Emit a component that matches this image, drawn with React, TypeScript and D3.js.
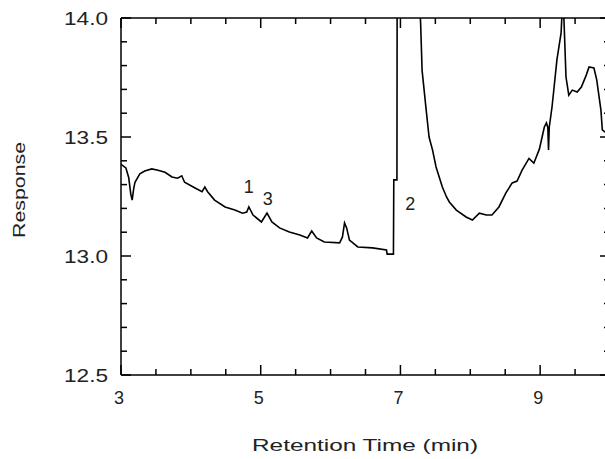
import React from "react";
import * as d3 from "d3";

const retentionTime = [
  3.0, 3.07, 3.11, 3.14, 3.16, 3.18, 3.2, 3.27, 3.34, 3.44, 3.53, 3.63, 3.73, 3.81, 3.87, 3.91,
  4.06, 4.16, 4.2, 4.24, 4.34, 4.49, 4.63, 4.74, 4.8, 4.83, 4.89, 5.01, 5.09, 5.16, 5.27, 5.41,
  5.56, 5.67, 5.73, 5.8, 5.91, 6.13, 6.17, 6.2, 6.23, 6.27, 6.39, 6.6, 6.8, 6.81, 6.9, 6.905,
  6.95, 6.955, 7.2, 7.29, 7.31, 7.37, 7.41, 7.46, 7.51, 7.6, 7.66, 7.7, 7.8, 7.94, 8.03, 8.13,
  8.23, 8.31, 8.41, 8.51, 8.6, 8.67, 8.74, 8.84, 8.91, 8.99, 9.06, 9.09, 9.11, 9.12, 9.13, 9.17,
  9.2, 9.24, 9.3, 9.31, 9.34, 9.37, 9.41, 9.46, 9.53, 9.59, 9.66, 9.7, 9.77, 9.81, 9.87, 9.89, 9.93,
];
const response = [
  13.385, 13.37, 13.33, 13.26, 13.235, 13.28, 13.31, 13.345, 13.357, 13.366, 13.36, 13.352, 13.332, 13.327, 13.337, 13.31,
  13.286, 13.27, 13.29, 13.27, 13.235, 13.206, 13.193, 13.18, 13.185, 13.206, 13.172, 13.143, 13.18, 13.143, 13.118, 13.101,
  13.088, 13.076, 13.105, 13.076, 13.059, 13.055, 13.08, 13.139, 13.118, 13.067, 13.038, 13.034, 13.025, 13.008, 13.008, 13.32,
  13.32, 14.6, 14.6, 13.97, 13.78, 13.61, 13.5, 13.445, 13.374, 13.29, 13.248, 13.227, 13.193, 13.164, 13.151, 13.18,
  13.172, 13.172, 13.206, 13.265, 13.307, 13.315, 13.36, 13.41, 13.39, 13.45, 13.542, 13.559, 13.54, 13.445, 13.54, 13.626,
  13.71, 13.824, 13.937, 14.0, 14.0, 13.752, 13.676, 13.697, 13.689, 13.71, 13.76, 13.794, 13.79, 13.74, 13.613, 13.53, 13.52,
];

const xTickLabels = [3, 5, 7, 9];
const yTickLabels = ["12.5", "13.0", "13.5", "14.0"];
const peakNames = ["1", "3", "2"];
const peakTime = [4.83, 5.1, 7.14];
const peakResponse = [13.292, 13.24, 13.222];

const W = 605;
const H = 459;
const FONT = "'Liberation Sans', Arial, sans-serif";

export default function App() {
  const x = d3.scaleLinear().domain([3, 10]).range([121, 610]);
  const y = d3.scaleLinear().domain([12.5, 14]).range([375, 18]);
  const pts = retentionTime.map((t, i) => [t, response[i]] as [number, number]);
  const line = d3
    .line<[number, number]>()
    .x((d) => x(d[0]))
    .y((d) => y(d[1]));

  const xMinor = d3.range(3, 10.001, 0.5);
  const yMinor = d3.range(12.5, 14.001, 0.1);
  const isXMajor = (v: number) => xTickLabels.some((m) => Math.abs(m - v) < 1e-6);
  const isYMajor = (v: number) => yTickLabels.some((m) => Math.abs(+m - v) < 1e-6);
  const x0 = x(3), x1 = x(10), y0 = y(12.5), y1 = y(14);

  return (
    <svg width={W} height={H} style={{ position: "absolute", left: 0, top: 0, background: "#fff" }}>
      <defs>
        <clipPath id="plot">
          <rect x={x0} y={y1} width={x1 - x0} height={y0 - y1} />
        </clipPath>
      </defs>
      <rect x={0} y={0} width={W} height={H} fill="#fff" />
      <g stroke="#000" strokeWidth={1.5} fill="none">
        <line x1={x0} x2={x1} y1={y0} y2={y0} />
        <line x1={x0} x2={x1} y1={y1} y2={y1} />
        <line x1={x0} x2={x0} y1={y0} y2={y1} />
        <line x1={x1} x2={x1} y1={y0} y2={y1} />
        {xMinor.map((v, i) => {
          const L = isXMajor(v) ? 10 : 6;
          return (
            <g key={"xt" + i}>
              <line x1={x(v)} x2={x(v)} y1={y0} y2={y0 - L} />
              <line x1={x(v)} x2={x(v)} y1={y1} y2={y1 + L} />
            </g>
          );
        })}
        {yMinor.map((v, i) => {
          const L = isYMajor(v) ? 10 : 6;
          return (
            <g key={"yt" + i}>
              <line x1={x0} x2={x0 + L} y1={y(v)} y2={y(v)} />
              <line x1={x1} x2={x1 - L} y1={y(v)} y2={y(v)} />
            </g>
          );
        })}
      </g>
      <path d={line(pts) || ""} fill="none" stroke="#000" strokeWidth={1.6} clipPath="url(#plot)" strokeLinejoin="miter" />
      <g fontFamily={FONT} fontSize={18} fill="#222">
        {yTickLabels.map((t) => (
          <text key={t} x={64} y={y(+t) + 6.5} textLength={44} lengthAdjust="spacingAndGlyphs">
            {t}
          </text>
        ))}
        {xTickLabels.map((t) => (
          <text key={t} x={x(t) - 2} y={y0 + 29} textAnchor="middle">
            {t}
          </text>
        ))}
        {peakNames.map((n, i) => (
          <text key={n} x={x(peakTime[i])} y={y(peakResponse[i]) + 6.5} textAnchor="middle">
            {n}
          </text>
        ))}
        <text x={252} y={451} fontSize={16} textLength={226} lengthAdjust="spacingAndGlyphs">
          Retention Time (min)
        </text>
        <text
          transform={`translate(25,238) rotate(-90)`}
          x={0}
          y={0}
          fontSize={16}
          textLength={96}
          lengthAdjust="spacingAndGlyphs"
        >
          Response
        </text>
      </g>
    </svg>
  );
}
